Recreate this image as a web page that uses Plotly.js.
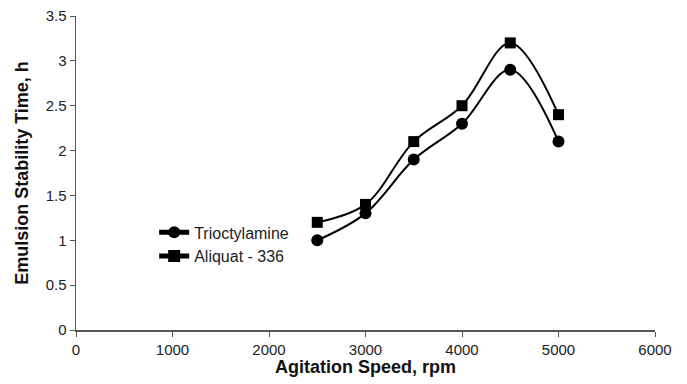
<!DOCTYPE html>
<html><head><meta charset="utf-8">
<script src="https://cdn.plot.ly/plotly-3.0.1.min.js"></script>
<style>body{margin:0;background:#fff}#c{width:687px;height:384px}</style>
</head><body><div id="c"></div>
<script>
var speed = [2500, 3000, 3500, 4000, 4500, 5000];
var trioctylamine = [1.0, 1.3, 1.9, 2.3, 2.9, 2.1];
var aliquat = [1.2, 1.4, 2.1, 2.5, 3.2, 2.4];
var names = ["Trioctylamine", "Aliquat - 336"];

var traces = [
  {x: speed, y: trioctylamine, name: names[0], mode: "lines+markers",
   line: {color: "#000", width: 2, shape: "spline", smoothing: 1},
   marker: {symbol: "circle", size: 12, color: "#000"}},
  {x: speed, y: aliquat, name: names[1], mode: "lines+markers",
   line: {color: "#000", width: 2, shape: "spline", smoothing: 1},
   marker: {symbol: "square", size: 11, color: "#000"}}
];
var layout = {
  width: 687, height: 384,
  margin: {l: 76, r: 32, t: 16, b: 54},
  paper_bgcolor: "#fff", plot_bgcolor: "#fff",
  font: {family: "Liberation Sans, Arial, sans-serif", size: 15, color: "#222"},
  showlegend: true,
  legend: {x: 0.135, y: 0.365, xanchor: "left", yanchor: "top", bgcolor: "rgba(0,0,0,0)",
           font: {size: 16, color: "#222"}, tracegroupgap: 0, itemsizing: "constant"},
  xaxis: {range: [0, 6000], dtick: 1000, tick0: 0, showgrid: false, zeroline: false,
          showline: true, linecolor: "#555", linewidth: 1.5, ticks: "outside", ticklen: 5,
          tickcolor: "#555", tickfont: {size: 15},
          title: {text: "<b>Agitation Speed, rpm</b>", font: {size: 18, color: "#111"}, standoff: 4}},
  yaxis: {range: [0, 3.5], dtick: 0.5, tick0: 0, showgrid: false, zeroline: false,
          showline: true, linecolor: "#555", linewidth: 1.5, ticks: "outside", ticklen: 5,
          tickcolor: "#555", tickfont: {size: 15},
          title: {text: "<b>Emulsion Stability Time, h</b>", font: {size: 18, color: "#111"}, standoff: 12}}
};
Plotly.newPlot("c", traces, layout, {displayModeBar: false, staticPlot: true});
</script></body></html>
